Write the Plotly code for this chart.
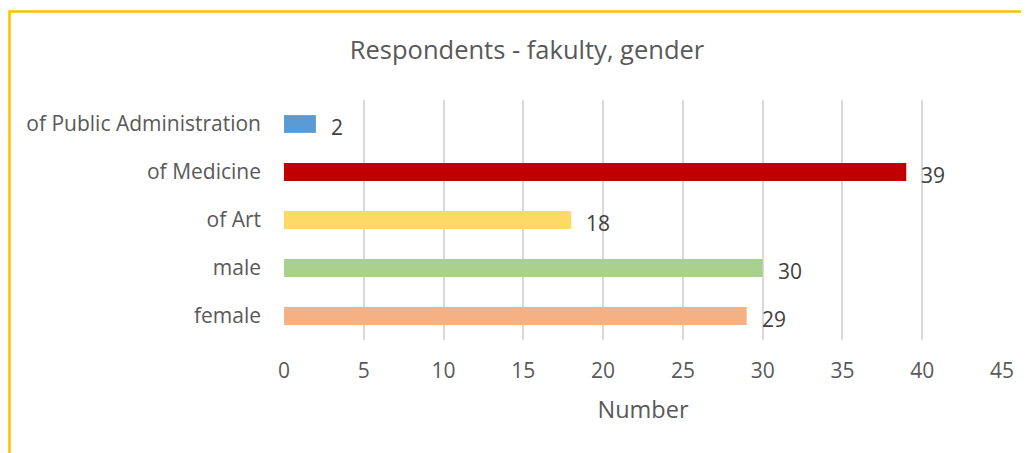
import plotly.graph_objects as go

categories = ["female", "male", "of Art", "of Medicine", "of Public Administration"]
values = [29, 30, 18, 39, 2]
colors = ["#F4B183", "#A9D18E", "#FFD966", "#C00000", "#5B9BD5"]
x_ticks = [0, 5, 10, 15, 20, 25, 30, 35, 40, 45]

FONT = "Open Sans"
TXT = "#595959"

# page has an 8px body margin: figure spans page x 8..1029, y 8..453
W, H = 1021, 445
L, T, R, B = 276, 92, 27, 113
PW, PH = W - L - R, H - T - B

fig = go.Figure()
fig.add_trace(go.Bar(
    y=categories, x=values, orientation="h",
    marker=dict(color=colors, line=dict(width=0)),
    width=0.37, showlegend=False, hoverinfo="x+y",
))

for c, v in zip(categories, values):
    fig.add_annotation(x=v, y=c, xref="x", yref="y", text=str(v),
                       showarrow=False, xanchor="left", xshift=13, yshift=-3,
                       font=dict(family=FONT, size=21, color="#404040"))

fig.update_layout(
    width=W, height=H,
    margin=dict(l=L, r=R, t=T, b=B, pad=0),
    paper_bgcolor="white", plot_bgcolor="white",
    title=dict(text="Respondents - fakulty, gender", x=519 / W, xanchor="center",
               y=1 - 42 / H, yanchor="middle",
               font=dict(family=FONT, size=25.5, color=TXT)),
    xaxis=dict(range=[0, 45], tickvals=x_ticks, showgrid=True, gridcolor="#D9D9D9",
               gridwidth=1.5, zeroline=False, showline=False,
               tickfont=dict(family=FONT, size=21, color=TXT), ticks="",
               ticklabelstandoff=16,
               title=dict(text="Number", font=dict(family=FONT, size=23.5, color=TXT), standoff=18)),
    yaxis=dict(categoryorder="array", categoryarray=categories, showgrid=False,
               zeroline=False, showline=False, ticks="",
               tickfont=dict(family=FONT, size=21, color=TXT), ticklabelstandoff=22,
               range=[-0.5, 4.5]),
    shapes=[dict(type="rect", xref="paper", yref="paper",
                 x0=(1.5 - L) / PW, x1=(W + 20 - L) / PW,
                 y0=1 - (H + 20 - T) / PH, y1=1 - (3.5 - T) / PH,
                 line=dict(color="#FFC000", width=2.5), layer="below")],
)

fig.write_html("out.html")
